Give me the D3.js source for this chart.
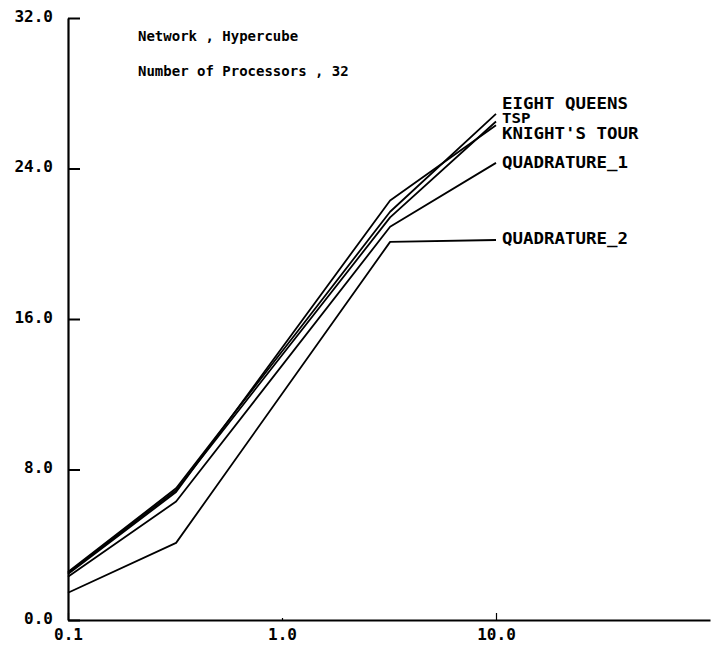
<!DOCTYPE html>
<html>
<head>
<meta charset="utf-8">
<script src="https://cdn.jsdelivr.net/npm/d3@7"></script>
<style>
  html, body { margin: 0; padding: 0; background: #fff; }
  svg { display: block; }
  text { font-family: "DejaVu Sans Mono", "Liberation Mono", monospace; font-weight: bold; fill: #000; white-space: pre; }
</style>
</head>
<body>
<svg id="chart" width="711" height="646"></svg>
<script>
// Speed-up curves for five benchmark programs on a 32-node hypercube
const xValues = [0.1, 0.32, 3.2, 10];
const seriesNames = ["EIGHT QUEENS", "TSP", "KNIGHT'S TOUR", "QUADRATURE_1", "QUADRATURE_2"];
const eightQueens  = [2.55, 7.0, 21.7, 26.9];
const tsp          = [2.5, 6.9, 21.4, 26.5];
const knightsTour  = [2.45, 6.8, 22.3, 26.3];
const quadrature1  = [2.3, 6.3, 20.9, 24.3];
const quadrature2  = [1.45, 4.1, 20.1, 20.2];
const yTicks = [0, 8, 16, 24, 32];
const xTicks = [0.1, 1, 10];
const titleLines = ["Network , Hypercube", "Number of Processors , 32"];

const seriesValues = [eightQueens, tsp, knightsTour, quadrature1, quadrature2];
// vertical offsets (px) and sizes that keep the end labels apart
const labelNudge = [-11, -4, 8, -1, -2];
const labelSize = [16, 14, 16, 16, 16];
const labelCharWidth = [10.5, 9.5, 10.5, 10.5, 10.5];

const svg = d3.select("#chart");
const x = d3.scaleLog().domain([0.1, 100]).range([68, 710]);
const y = d3.scaleLinear().domain([0, 32]).range([620, 18]);

// y axis: ticks point inward, labels on the left
const yAxis = d3.axisLeft(y)
  .tickValues(yTicks)
  .tickFormat(d3.format(".1f"))
  .tickSizeInner(-12)
  .tickSizeOuter(0)
  .tickPadding(15);
const gy = svg.append("g").attr("transform", "translate(68,0)").call(yAxis);
gy.select(".domain").attr("stroke", "#000").attr("stroke-width", 2.2);
gy.selectAll(".tick line").attr("stroke", "#000").attr("stroke-width", 2);
gy.selectAll(".tick text").attr("font-size", 16).attr("dy", "0.2em");

// x axis on a log scale
const xAxis = d3.axisBottom(x)
  .tickValues(xTicks)
  .tickFormat(d3.format(".1f"))
  .tickSizeInner(-7)
  .tickSizeOuter(0)
  .tickPadding(9);
const gx = svg.append("g").attr("transform", "translate(0,620)").call(xAxis);
gx.select(".domain").attr("stroke", "#000").attr("stroke-width", 2.2);
gx.selectAll(".tick line").attr("stroke", "#000").attr("stroke-width", 1.2)
  .attr("y2", d => d === 1 ? -2 : -7);
gx.selectAll(".tick text").attr("font-size", 16);

// curves
const line = d3.line()
  .x((d, i) => x(xValues[i]))
  .y(d => y(d));

svg.append("g")
  .selectAll("path")
  .data(seriesValues)
  .join("path")
  .attr("d", d => line(d))
  .attr("fill", "none")
  .attr("stroke", "#000")
  .attr("stroke-width", 1.8)
  .attr("stroke-linejoin", "round");

// series labels at the right-hand end of each curve
svg.append("g")
  .selectAll("text")
  .data(seriesNames)
  .join("text")
  .attr("x", x(10) + 6)
  .attr("y", (d, i) => y(seriesValues[i][seriesValues[i].length - 1]) + labelNudge[i])
  .attr("dy", "0.36em")
  .attr("font-size", (d, i) => labelSize[i])
  .attr("textLength", (d, i) => d.length * labelCharWidth[i])
  .attr("lengthAdjust", "spacingAndGlyphs")
  .text(d => d);

// run description
svg.append("g")
  .selectAll("text")
  .data(titleLines)
  .join("text")
  .attr("x", 138)
  .attr("y", (d, i) => 36 + i * 35)
  .attr("dy", "0.36em")
  .attr("font-size", 14)
  .text(d => d);
</script>
</body>
</html>
